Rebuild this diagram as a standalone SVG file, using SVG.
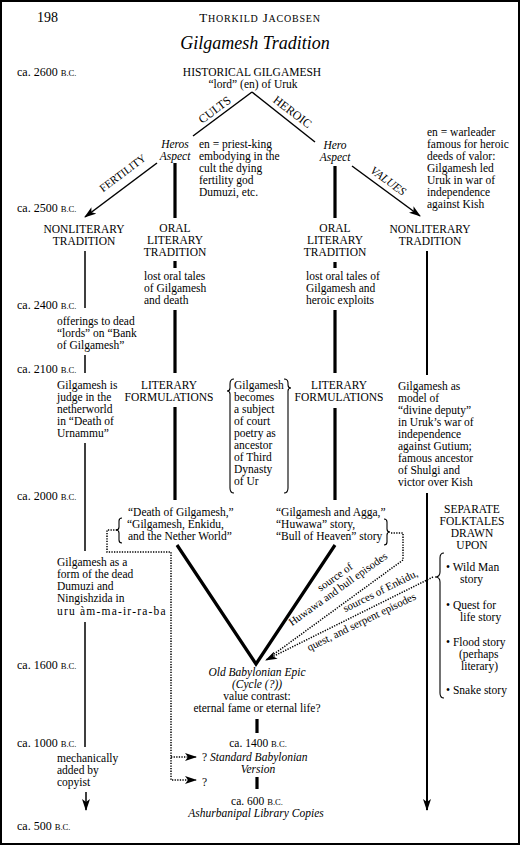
<svg xmlns="http://www.w3.org/2000/svg" width="520" height="845" viewBox="0 0 520 845">
<defs>
<style>
text{font-family:"Liberation Serif","Times New Roman",serif;font-size:11.5px;fill:#000}
.c{text-anchor:middle}
.i{font-style:italic}
.sc{font-size:8.6px}
.tl{font-size:12px}
.rl{font-size:11px}
.th{stroke:#000;stroke-width:3.2;fill:none}
.tn{stroke:#000;stroke-width:1.5;fill:none}
.tr{stroke:#000;stroke-width:2;fill:none}
.dot{stroke:#000;stroke-width:1.5;fill:none;stroke-dasharray:1.3 1.3}
.br{stroke:#000;stroke-width:1.1;fill:none}
</style>
<marker id="ah" markerWidth="12" markerHeight="8" refX="11" refY="4" orient="auto" markerUnits="userSpaceOnUse"><path d="M0,0 L12,4 L0,8 L3,4 z" fill="#000"/></marker>
</defs>
<rect x="1" y="1" width="518" height="843" fill="#fff" stroke="#000" stroke-width="2"/>

<g id="header">
<text x="37" y="22" style="font-size:14px">198</text>
<text x="260" y="22" class="c" style="font-size:13px;letter-spacing:0.8px">T<tspan style="font-size:10px">HORKILD</tspan> J<tspan style="font-size:10px">ACOBSEN</tspan></text>
<text x="255" y="49" class="c i" style="font-size:18px">Gilgamesh Tradition</text>
</g>

<g id="timeline">
<text x="17" y="76" class="tl">ca. 2600 <tspan class="sc">B.C.</tspan></text>
<text x="17" y="212" class="tl">ca. 2500 <tspan class="sc">B.C.</tspan></text>
<text x="17" y="309" class="tl">ca. 2400 <tspan class="sc">B.C.</tspan></text>
<text x="17" y="373" class="tl">ca. 2100 <tspan class="sc">B.C.</tspan></text>
<text x="17" y="500" class="tl">ca. 2000 <tspan class="sc">B.C.</tspan></text>
<text x="17" y="669" class="tl">ca. 1600 <tspan class="sc">B.C.</tspan></text>
<text x="17" y="747" class="tl">ca. 1000 <tspan class="sc">B.C.</tspan></text>
<text x="17" y="830" class="tl">ca. 500 <tspan class="sc">B.C.</tspan></text>
</g>

<g id="connectors">
<path class="tn" d="M252,92 L193,136"/>
<path class="tn" d="M252,92 L315,142"/>
<path class="tn" d="M157,163 L85,217" marker-end="url(#ah)"/>
<path class="tn" d="M352,166 L420,216" marker-end="url(#ah)"/>
<path class="th" d="M175,163 V218 M175,261 V268 M175,310 V373 M175,407 V500"/>
<path class="th" d="M335,166 V218 M335,262 V268 M335,310 V373 M335,408 V500"/>
<path class="tn" d="M85,251 V308 M85,355 V373 M85,443 V551 M85,622 V747"/>
<path class="tn" d="M86,792 V810" marker-end="url(#ah)"/>
<path class="tr" d="M427,251 V375"/>
<path class="tr" d="M427,493 V810" marker-end="url(#ah)"/>
<path class="th" d="M177,545 L256,664 L335,545"/>
<path class="th" d="M257,719 V733 M257,777 V789"/>
<path class="dot" d="M117,530 H107 V552 H171 V780 H196" marker-end="url(#ah)"/>
<path class="dot" d="M171,757 H196" marker-end="url(#ah)"/>
<path class="dot" d="M391,533 H403 V560 L270,657"/>
<path class="dot" d="M433,577 L266,660" marker-end="url(#ah)"/>
<path class="br" d="M122,518 Q119,518 119,521 V527 Q119,530 116,530 Q119,530 119,533 V540 Q119,543 122,543"/>
<path class="br" d="M384,519 Q387,519 387,522 V529 Q387,532 390,532 Q387,532 387,535 V542 Q387,545 384,545"/>
<path class="br" d="M234,379 Q230,379 230,384 V388 Q230,391 227,391 Q230,391 230,394 V488 Q230,493 234,493"/>
<path class="br" d="M284,379 Q288,379 288,383 V385 Q288,388 291,388 Q288,388 288,391 V488 Q288,493 284,493"/>
<path class="br" d="M444,553 Q440,553 440,558 V572 Q440,577 435,577 Q440,577 440,582 V693 Q440,698 444,698"/>
</g>

<g id="labels">
<text transform="translate(217,113) rotate(-37)" class="c" style="font-size:12px">CULTS</text>
<text transform="translate(290,115) rotate(37)" class="c" style="font-size:12px">HEROIC</text>
<text transform="translate(125,176) rotate(-37)" class="c" style="font-size:11px">FERTILITY</text>
<text transform="translate(386,184) rotate(36)" class="c i" style="font-size:11.5px">VALUES</text>
<text transform="translate(337,580) rotate(-35.5)" class="c rl">source of</text>
<text transform="translate(340,592) rotate(-35.5)" class="c rl">Huwawa and bull episodes</text>
<text transform="translate(382,594) rotate(-26.5)" class="c rl">sources of Enkidu,</text>
<text transform="translate(363,625) rotate(-26)" class="c rl">quest, and serpent episodes</text>
</g>

<g id="n-historical">
<text x="252" y="76" class="c">HISTORICAL GILGAMESH</text>
<text x="253" y="88" class="c">“lord” (en) of Uruk</text>
</g>

<g id="n-heros-aspect">
<text x="175" y="148" class="c i">Heros</text>
<text x="175" y="160" class="c i">Aspect</text>
</g>
<g id="n-priest-king">
<text x="199" y="148">en = priest-king</text>
<text x="199" y="160">embodying in the</text>
<text x="199" y="172">cult the dying</text>
<text x="199" y="184">fertility god</text>
<text x="199" y="196">Dumuzi, etc.</text>
</g>
<g id="n-hero-aspect">
<text x="335" y="149" class="c i">Hero</text>
<text x="335" y="161" class="c i">Aspect</text>
</g>
<g id="n-warleader">
<text x="427" y="136">en = warleader</text>
<text x="427" y="148">famous for heroic</text>
<text x="427" y="160">deeds of valor:</text>
<text x="427" y="172">Gilgamesh led</text>
<text x="427" y="184">Uruk in war of</text>
<text x="427" y="196">independence</text>
<text x="427" y="208">against Kish</text>
</g>

<g id="n-nonlit-left">
<text x="84" y="233" class="c">NONLITERARY</text>
<text x="84" y="245" class="c">TRADITION</text>
</g>
<g id="n-oral-left">
<text x="175" y="232" class="c">ORAL</text>
<text x="175" y="244" class="c">LITERARY</text>
<text x="175" y="256" class="c">TRADITION</text>
</g>
<g id="n-oral-right">
<text x="335" y="232" class="c">ORAL</text>
<text x="335" y="244" class="c">LITERARY</text>
<text x="335" y="256" class="c">TRADITION</text>
</g>
<g id="n-nonlit-right">
<text x="430" y="233" class="c">NONLITERARY</text>
<text x="430" y="245" class="c">TRADITION</text>
</g>

<g id="n-lost-death">
<text x="144" y="280">lost oral tales</text>
<text x="144" y="292">of Gilgamesh</text>
<text x="144" y="304">and death</text>
</g>
<g id="n-lost-heroic">
<text x="306" y="280">lost oral tales of</text>
<text x="306" y="292">Gilgamesh and</text>
<text x="306" y="304">heroic exploits</text>
</g>

<g id="n-offerings">
<text x="57" y="325">offerings to dead</text>
<text x="57" y="337">“lords” on “Bank</text>
<text x="57" y="349">of Gilgamesh”</text>
</g>
<g id="n-judge">
<text x="57" y="389">Gilgamesh is</text>
<text x="57" y="401">judge in the</text>
<text x="57" y="413">netherworld</text>
<text x="57" y="425">in “Death of</text>
<text x="57" y="437">Urnammu”</text>
</g>

<g id="n-litform-left">
<text x="169" y="389" class="c">LITERARY</text>
<text x="169" y="401" class="c">FORMULATIONS</text>
</g>
<g id="n-court">
<text x="234" y="389">Gilgamesh</text>
<text x="234" y="401">becomes</text>
<text x="234" y="413">a subject</text>
<text x="234" y="425">of court</text>
<text x="234" y="437">poetry as</text>
<text x="234" y="449">ancestor</text>
<text x="234" y="461">of Third</text>
<text x="234" y="473">Dynasty</text>
<text x="234" y="485">of Ur</text>
</g>
<g id="n-litform-right">
<text x="339" y="389" class="c">LITERARY</text>
<text x="339" y="401" class="c">FORMULATIONS</text>
</g>
<g id="n-divine-deputy">
<text x="398" y="390">Gilgamesh as</text>
<text x="398" y="402">model of</text>
<text x="398" y="414">“divine deputy”</text>
<text x="398" y="426">in Uruk’s war of</text>
<text x="398" y="438">independence</text>
<text x="398" y="450">against Gutium;</text>
<text x="398" y="462">famous ancestor</text>
<text x="398" y="474">of Shulgi and</text>
<text x="398" y="486">victor over Kish</text>
</g>

<g id="n-death-texts">
<text x="128" y="516">“Death of Gilgamesh,”</text>
<text x="127" y="528">“Gilgamesh, Enkidu,</text>
<text x="128" y="540">and the Nether World”</text>
</g>
<g id="n-agga-texts">
<text x="276" y="516">“Gilgamesh and Agga,”</text>
<text x="276" y="528">“Huwawa” story,</text>
<text x="276" y="540">“Bull of Heaven” story</text>
</g>
<g id="n-folktales">
<text x="472" y="513" class="c">SEPARATE</text>
<text x="472" y="525" class="c">FOLKTALES</text>
<text x="472" y="537" class="c">DRAWN</text>
<text x="472" y="549" class="c">UPON</text>
<text x="446" y="571">• Wild Man</text>
<text x="460" y="583">story</text>
<text x="446" y="609">• Quest for</text>
<text x="460" y="621">life story</text>
<text x="446" y="646">• Flood story</text>
<text x="459" y="658">(perhaps</text>
<text x="461" y="670">literary)</text>
<text x="446" y="694">• Snake story</text>
</g>

<g id="n-ningishzida">
<text x="57" y="566">Gilgamesh as a</text>
<text x="57" y="578">form of the dead</text>
<text x="57" y="590">Dumuzi and</text>
<text x="57" y="602">Ningishzida in</text>
<text x="57" y="615" style="letter-spacing:1.2px">uru àm-ma-ir-ra-ba</text>
</g>

<g id="n-ob-epic">
<text x="257" y="676" class="c i">Old Babylonian Epic</text>
<text x="257" y="688" class="c i">(Cycle (?))</text>
<text x="257" y="700" class="c">value contrast:</text>
<text x="257" y="712" class="c">eternal fame or eternal life?</text>
</g>
<g id="n-sb">
<text x="258" y="747" class="c">ca. 1400 <tspan class="sc">B.C.</tspan></text>
<text x="202" y="761">? <tspan class="i">Standard Babylonian</tspan></text>
<text x="258" y="773" class="c i">Version</text>
</g>
<g id="n-q">
<text x="202" y="786">?</text>
</g>
<g id="n-ashurbanipal">
<text x="257" y="805" class="c">ca. 600 <tspan class="sc">B.C.</tspan></text>
<text x="256" y="817" class="c i">Ashurbanipal Library Copies</text>
</g>
<g id="n-copyist">
<text x="57" y="762">mechanically</text>
<text x="57" y="774">added by</text>
<text x="57" y="786">copyist</text>
</g>
</svg>
